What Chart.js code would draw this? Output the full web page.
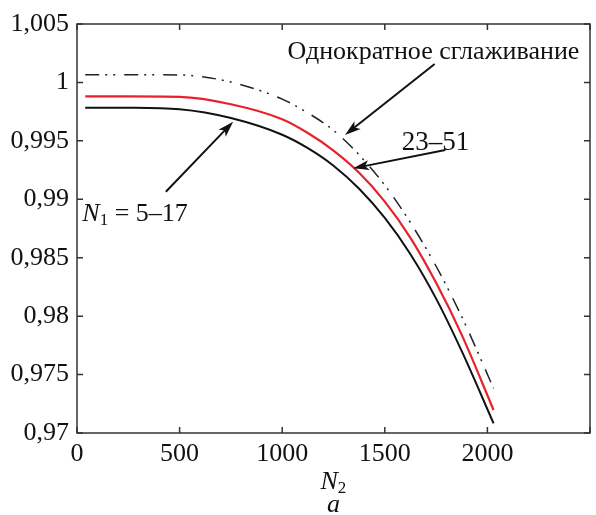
<!DOCTYPE html>
<html>
<head>
<meta charset="utf-8">
<script src="https://cdn.jsdelivr.net/npm/chart.js@4/dist/chart.umd.min.js"></script>
<style>
  html, body { margin: 0; padding: 0; background: #fff; }
  #wrap { width: 596px; height: 515px; }
</style>
</head>
<body>
<div id="wrap"><canvas id="chart" width="596" height="515"></canvas></div>
<script>
const n2 = [40, 250, 500, 750, 1000, 1125, 1250, 1375, 1500, 1625, 1750, 1875, 2030];

// one-pass smoothing (dash-dot)
const singlePass = [1.00066, 1.00066, 1.00064, 1.00003, 0.99857, 0.99739, 0.99590, 0.99380, 0.99120, 0.98800, 0.98427, 0.97995, 0.97383];
// N1 = 23-51 (red)
const n1_23_51 = [0.99880, 0.99880, 0.99876, 0.99813, 0.99685, 0.99567, 0.99417, 0.99227, 0.98980, 0.98670, 0.98285, 0.97840, 0.97197];
// N1 = 5-17 (black)
const n1_5_17 = [0.99784, 0.99783, 0.99770, 0.99695, 0.99552, 0.99437, 0.99287, 0.99090, 0.98840, 0.98530, 0.98150, 0.97700, 0.97083];

const xLabels = [0, 500, 1000, 1500, 2000];

const FONT = '"Liberation Serif", "Times New Roman", serif';
const toPts = ys => ys.map((v, i) => ({ x: n2[i], y: v }));

function arrow(ctx, x0, y0, x1, y1) {
  const a = Math.atan2(y1 - y0, x1 - x0);
  const c = Math.cos(a), s = Math.sin(a);
  const L = 16, W = 5;
  const bx = x1 - L * c, by = y1 - L * s;
  ctx.beginPath();
  ctx.moveTo(x0, y0);
  ctx.lineTo(x1 - 10 * c, y1 - 10 * s);
  ctx.stroke();
  ctx.beginPath();
  ctx.moveTo(x1, y1);
  ctx.lineTo(bx + W * s, by - W * c);
  ctx.lineTo(x1 - 12 * c, y1 - 12 * s);
  ctx.lineTo(bx - W * s, by + W * c);
  ctx.closePath();
  ctx.fill();
}

function subText(ctx, x, y, main, sub, rest, size) {
  ctx.textAlign = "left";
  ctx.textBaseline = "alphabetic";
  ctx.font = `italic ${size}px ${FONT}`;
  ctx.fillText(main, x, y);
  x += ctx.measureText(main).width;
  ctx.font = `${Math.round(size * 0.65)}px ${FONT}`;
  ctx.fillText(sub, x, y + 4);
  x += ctx.measureText(sub).width;
  if (rest) {
    ctx.font = `${size}px ${FONT}`;
    ctx.fillText(rest, x, y);
  }
}

const decor = {
  id: "decor",
  afterDatasetsDraw(chart) {
    const { ctx, chartArea: ar, scales: { x, y } } = chart;
    ctx.save();
    ctx.strokeStyle = "#333";
    ctx.lineWidth = 1.5;
    ctx.strokeRect(ar.left, ar.top, ar.right - ar.left, ar.bottom - ar.top);

    // inward ticks on all four sides
    const tl = 6;
    ctx.beginPath();
    x.ticks.forEach(t => {
      const px = x.getPixelForValue(t.value);
      ctx.moveTo(px, ar.bottom); ctx.lineTo(px, ar.bottom - tl);
      ctx.moveTo(px, ar.top); ctx.lineTo(px, ar.top + tl);
    });
    y.ticks.forEach(t => {
      const py = y.getPixelForValue(t.value);
      ctx.moveTo(ar.left, py); ctx.lineTo(ar.left + tl, py);
      ctx.moveTo(ar.right, py); ctx.lineTo(ar.right - tl, py);
    });
    ctx.stroke();

    // arrows
    ctx.strokeStyle = "#111";
    ctx.fillStyle = "#111";
    ctx.lineWidth = 2;
    arrow(ctx, x.getPixelForValue(433), y.getPixelForValue(0.99065), x.getPixelForValue(761), y.getPixelForValue(0.99664));
    arrow(ctx, x.getPixelForValue(1743), y.getPixelForValue(1.00158), x.getPixelForValue(1306), y.getPixelForValue(0.99550));
    arrow(ctx, x.getPixelForValue(1795), y.getPixelForValue(0.99422), x.getPixelForValue(1346), y.getPixelForValue(0.99265));

    // labels
    ctx.font = `26px ${FONT}`;
    ctx.textAlign = "center";
    ctx.textBaseline = "alphabetic";
    ctx.fillText("Однократное сглаживание", x.getPixelForValue(1737), y.getPixelForValue(1.00200));
    ctx.font = `27px ${FONT}`;
    ctx.fillText("23–51", x.getPixelForValue(1747), y.getPixelForValue(0.99422));
    subText(ctx, x.getPixelForValue(26), y.getPixelForValue(0.98814), "N", "1", " = 5–17", 26);

    // axis title and panel letter
    const cx = (ar.left + ar.right) / 2;
    subText(ctx, cx - 13, ar.bottom + 56, "N", "2", "", 26);
    ctx.font = `italic 26px ${FONT}`;
    ctx.textAlign = "center";
    ctx.fillText("a", cx, ar.bottom + 79);
    ctx.restore();
  }
};

function draw() {
  new Chart(document.getElementById("chart"), {
    type: "line",
    data: {
      datasets: [
        { label: "Однократное сглаживание", data: toPts(singlePass), borderColor: "#222", borderWidth: 1.5, borderDash: [14, 6, 2, 6, 2, 9] },
        { label: "23–51", data: toPts(n1_23_51), borderColor: "#e8212b", borderWidth: 2.2 },
        { label: "N1 = 5–17", data: toPts(n1_5_17), borderColor: "#111", borderWidth: 2 }
      ]
    },
    options: {
      responsive: false,
      animation: false,
      events: [],
      layout: { padding: { top: 24, right: 3, left: 0, bottom: 0 } },
      elements: {
        point: { radius: 0 },
        line: { cubicInterpolationMode: "monotone", fill: false }
      },
      plugins: { legend: { display: false }, tooltip: { enabled: false } },
      scales: {
        x: {
          type: "linear",
          min: 0, max: 2500,
          grid: { display: false, drawTicks: false },
          border: { display: false },
          afterFit: s => { s.height = 82; },
          ticks: {
            stepSize: 500,
            padding: 6,
            color: "#111",
            font: { family: FONT, size: 26 },
            callback: v => xLabels.includes(v) ? String(v) : ""
          }
        },
        y: {
          min: 0.97, max: 1.005,
          grid: { display: false, drawTicks: false },
          border: { display: false },
          afterFit: s => { s.width = 77; },
          ticks: {
            stepSize: 0.005,
            padding: 8,
            color: "#111",
            font: { family: FONT, size: 26 },
            callback: v => String(+v.toFixed(3)).replace(".", ",")
          }
        }
      }
    },
    plugins: [decor]
  });
}

document.fonts.load('26px "Liberation Serif"').then(draw, draw);
</script>
</body>
</html>
